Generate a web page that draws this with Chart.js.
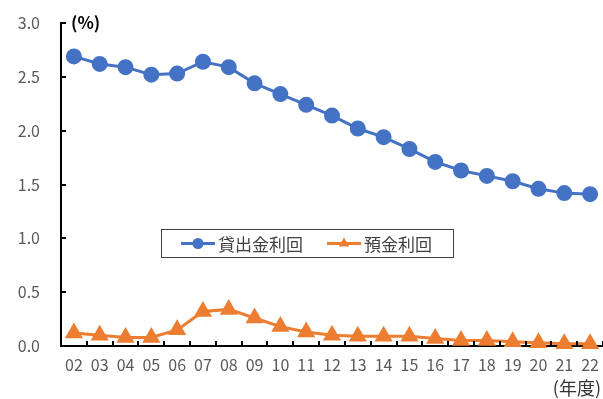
<!DOCTYPE html>
<html>
<head>
<meta charset="utf-8">
<script src="https://cdn.jsdelivr.net/npm/chart.js@4"></script>
<style>
html,body{margin:0;padding:0;background:#fff;}
#wrap{width:603px;height:399px;position:relative;}
</style>
</head>
<body>
<div id="wrap"><canvas id="c" width="603" height="399"></canvas></div>
<script>
const years = ['02','03','04','05','06','07','08','09','10','11','12','13','14','15','16','17','18','19','20','21','22'];
const lendingRate = [2.69,2.62,2.59,2.52,2.53,2.64,2.59,2.44,2.34,2.24,2.14,2.02,1.94,1.83,1.71,1.63,1.58,1.53,1.46,1.42,1.41];
const depositRate = [0.12,0.10,0.08,0.08,0.15,0.32,0.34,0.26,0.18,0.13,0.10,0.09,0.09,0.09,0.07,0.05,0.05,0.04,0.03,0.02,0.02];
const seriesNames = ['貸出金利回','預金利回'];
const yUnit = '(%)';
const xUnit = '(年度)';

const FONT = '"Noto Sans CJK JP", "Noto Sans", sans-serif';
const BLUE = '#4472C4', ORANGE = '#ED7D31';

const decor = {
  id: 'decor',
  afterDraw(chart) {
    const {ctx, chartArea, scales} = chart;
    const x = scales.x, y = scales.y;
    ctx.save();
    ctx.strokeStyle = '#000'; ctx.lineWidth = 2;
    y.ticks.forEach((t, i) => {
      const py = Math.round(y.getPixelForTick(i));
      ctx.beginPath(); ctx.moveTo(chartArea.left, py); ctx.lineTo(chartArea.left + 5, py); ctx.stroke();
    });
    const step = x.getPixelForValue(1) - x.getPixelForValue(0);
    for (let i = 1; i <= years.length; i++) {
      const px = Math.round(x.getPixelForValue(i) - step / 2);
      ctx.beginPath(); ctx.moveTo(px, chartArea.bottom); ctx.lineTo(px, chartArea.bottom - 5); ctx.stroke();
    }
    ctx.fillStyle = '#000';
    ctx.font = 'bold 17px ' + FONT;
    ctx.textBaseline = 'middle'; ctx.textAlign = 'left';
    ctx.fillText(yUnit, chartArea.left + 10, chartArea.top);
    ctx.fillStyle = '#333';
    ctx.font = '18px ' + FONT;
    ctx.textAlign = 'right';
    ctx.fillText(xUnit, 601, 388);
    ctx.restore();
  }
};

const legendBox = {
  id: 'legendBox',
  afterDatasetsDraw(chart) {
    const {ctx, chartArea} = chart;
    const bx = chartArea.left + 100, by = chartArea.top + 206, bw = 292, bh = 28;
    ctx.save();
    ctx.fillStyle = '#fff';
    ctx.fillRect(bx, by, bw, bh);
    ctx.strokeStyle = '#404040'; ctx.lineWidth = 1;
    ctx.strokeRect(bx + 0.5, by + 0.5, bw, bh);
    const cy = by + bh / 2 + 0.5;
    ctx.font = '17px ' + FONT;
    ctx.textBaseline = 'middle'; ctx.textAlign = 'left';
    const xs = [bx + 20, bx + 166];
    chart.data.datasets.forEach((d, i) => {
      const sx = xs[i];
      ctx.strokeStyle = d.borderColor; ctx.lineWidth = 3;
      ctx.beginPath(); ctx.moveTo(sx, cy); ctx.lineTo(sx + 34, cy); ctx.stroke();
      ctx.fillStyle = d.borderColor;
      if (d.pointStyle === 'triangle') {
        const r = 6;
        ctx.beginPath();
        ctx.moveTo(sx + 17, cy - r);
        ctx.lineTo(sx + 17 + r * 0.87, cy + r * 0.5);
        ctx.lineTo(sx + 17 - r * 0.87, cy + r * 0.5);
        ctx.closePath(); ctx.fill();
      } else {
        ctx.beginPath(); ctx.arc(sx + 17, cy, 5.5, 0, Math.PI * 2); ctx.fill();
      }
      ctx.fillStyle = '#404040';
      ctx.fillText(d.label, sx + 37, cy + 1);
    });
    ctx.restore();
  }
};

new Chart(document.getElementById('c'), {
  type: 'line',
  data: {
    labels: years,
    datasets: [
      {label: seriesNames[0], data: lendingRate, borderColor: BLUE, backgroundColor: BLUE,
       borderWidth: 3, pointStyle: 'circle', pointRadius: 6.5, pointHoverRadius: 6.5, tension: 0, clip: false},
      {label: seriesNames[1], data: depositRate, borderColor: ORANGE, backgroundColor: ORANGE,
       borderWidth: 3, pointStyle: 'triangle', pointRadius: 7.5, pointHoverRadius: 7.5, tension: 0, clip: false}
    ]
  },
  options: {
    responsive: false,
    animation: false,
    events: [],
    layout: {autoPadding: false, padding: {top: 23, right: 0, left: 0, bottom: 0}},
    plugins: {legend: {display: false}, tooltip: {enabled: false}},
    scales: {
      x: {
        offset: true,
        grid: {display: false, drawTicks: false},
        border: {display: true, color: '#000', width: 2},
        ticks: {color: '#595959', font: {family: FONT, size: 16}, padding: 9, maxRotation: 0, autoSkip: false},
        afterFit(s) { s.height = 53; s.paddingLeft = 0; s.paddingRight = 0; }
      },
      y: {
        min: 0, max: 3,
        grid: {display: false, drawTicks: false},
        border: {display: true, color: '#000', width: 2},
        ticks: {stepSize: 0.5, color: '#595959', font: {family: FONT, size: 16}, padding: 21,
          callback: v => v.toFixed(1)},
        afterFit(s) { s.width = 61; s.paddingTop = 0; s.paddingBottom = 0; }
      }
    }
  },
  plugins: [decor, legendBox]
});
</script>
</body>
</html>
